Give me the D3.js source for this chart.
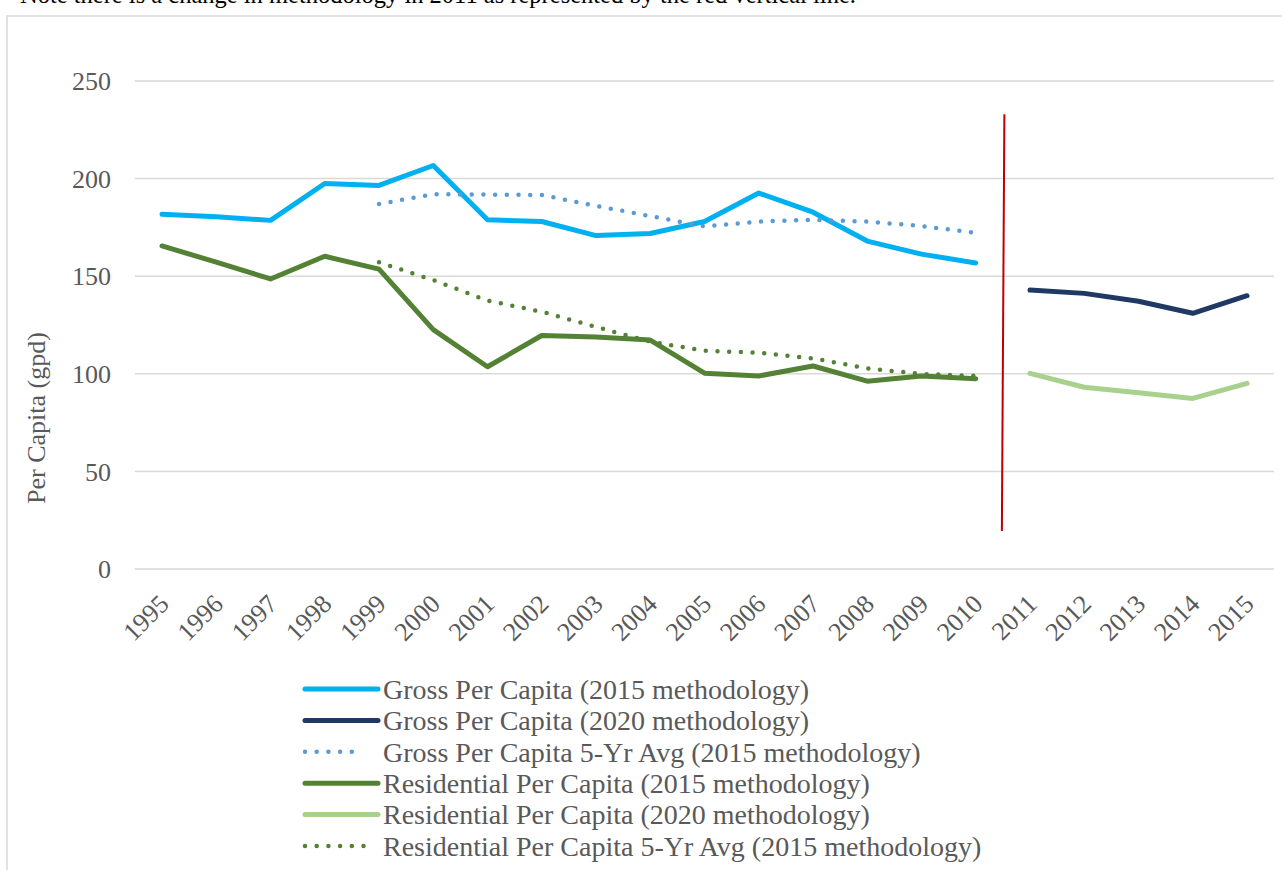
<!DOCTYPE html>
<html lang="en">
<head>
<meta charset="UTF-8">
<title>Per Capita Water Use</title>
<script src="https://d3js.org/d3.v7.min.js"></script>
<style>
    body { margin: 0; padding: 0; background: #fff; }
    svg { display: block; font-family: "Liberation Serif", "Times New Roman", serif; }
    .tick-label { fill: #595959; font-size: 26px; }
    .legend-label { fill: #595959; font-size: 28px; }
    .grid { stroke: #d9d9d9; stroke-width: 1.5; }
</style>
</head>
<body>
<svg id="chart" width="1282" height="870"></svg>
<script>
    const years = d3.range(1995, 2016);
    const yTicks = [0, 50, 100, 150, 200, 250];

    // values (null = no value that year)
    const gross2015 = [181.7, 180.5, 178.6, 197.5, 196.5, 206.7, 178.9, 178.0, 170.8, 171.9, 178.0, 192.6, 182.8, 168.0, 161.3, 156.8, null, null, null, null, null];
    const gross2020 = [null, null, null, null, null, null, null, null, null, null, null, null, null, null, null, null, 142.9, 141.2, 137.2, 131.0, 140.0];
    const grossAvg = [null, null, null, null, 187.0, 192.0, 191.8, 191.6, 186.0, 180.8, 175.5, 178.0, 178.9, 178.0, 175.7, 172.2, null, null, null, null, null];
    const res2015 = [165.5, 157.2, 148.6, 160.2, 153.6, 122.6, 103.6, 119.6, 118.9, 117.3, 100.3, 98.9, 104.0, 96.2, 98.9, 97.5, null, null, null, null, null];
    const res2020 = [null, null, null, null, null, null, null, null, null, null, null, null, null, null, null, null, 100.2, 93.1, 90.3, 87.4, 95.1];
    const resAvg = [null, null, null, null, 157.1, 148.0, 137.5, 131.8, 124.0, 116.5, 111.8, 110.8, 107.9, 102.8, 99.9, 98.9, null, null, null, null, null];

    const seriesNames = [
        "Gross Per Capita (2015 methodology)",
        "Gross Per Capita (2020 methodology)",
        "Gross Per Capita 5-Yr Avg (2015 methodology)",
        "Residential Per Capita (2015 methodology)",
        "Residential Per Capita (2020 methodology)",
        "Residential Per Capita 5-Yr Avg (2015 methodology)"
    ];
    const seriesValues = [gross2015, gross2020, grossAvg, res2015, res2020, resAvg];
    const seriesColors = ["#00b0f0", "#1f3864", "#5b9bd5", "#548235", "#a9d18e", "#548235"];
    const seriesDotted = [false, false, true, false, false, true];

    // red line marking the methodology change (value range it spans)
    const changeTop = 233, changeBottom = 19.5;

    const note = "Note there is a change in methodology in 2011 as represented by the red vertical line.";

    const svg = d3.select("#chart");

    const x = d3.scalePoint().domain(years).range([162, 1247]);
    const y = d3.scaleLinear().domain([0, 250]).range([569, 81]);
    const step = x.step();

    // outer frame (continues past the picture edges)
    svg.append("rect")
        .attr("x", 7).attr("y", 16)
        .attr("width", 1300).attr("height", 900)
        .attr("fill", "none").attr("stroke", "#d9d9d9").attr("stroke-width", 1.5);

    // note above the frame, mostly cut off
    svg.append("text")
        .attr("x", 20).attr("y", 3)
        .attr("font-size", 24.5)
        .attr("fill", "#000")
        .text(note);

    // gridlines
    svg.append("g").selectAll("line")
        .data(yTicks)
        .join("line")
        .attr("class", "grid")
        .attr("x1", x(1995) - step / 2).attr("x2", x(2015) + step / 2)
        .attr("y1", d => y(d)).attr("y2", d => y(d));

    svg.append("g").selectAll("text")
        .data(yTicks)
        .join("text")
        .attr("class", "tick-label")
        .attr("x", 111)
        .attr("y", d => y(d))
        .attr("dy", "0.35em")
        .attr("text-anchor", "end")
        .text(d => d);

    svg.append("g").selectAll("text")
        .data(years)
        .join("text")
        .attr("class", "tick-label")
        .attr("font-size", 27)
        .attr("text-anchor", "end")
        .attr("transform", d => `translate(${x(d) + 2},${y(0) + 30}) rotate(-45)`)
        .attr("dy", "0.35em")
        .text(d => d);

    svg.append("text")
        .attr("class", "tick-label")
        .attr("transform", `translate(36,${(y(0) + y(250)) / 2 + 93}) rotate(-90)`)
        .attr("text-anchor", "middle")
        .attr("dy", "0.35em")
        .text("Per Capita (gpd)");

    // series lines
    const line = d3.line()
        .defined(d => d.v != null)
        .x(d => x(d.year))
        .y(d => y(d.v));

    seriesValues.forEach((vals, i) => {
        const pts = years.map((year, j) => ({ year, v: vals[j] }));
        svg.append("path")
            .datum(pts)
            .attr("fill", "none")
            .attr("stroke", seriesColors[i])
            .attr("stroke-width", seriesDotted[i] ? 4.5 : 5)
            .attr("stroke-linecap", "round")
            .attr("stroke-linejoin", "round")
            .attr("stroke-dasharray", seriesDotted[i] ? "0 11.7" : null)
            .attr("d", line);
    });

    // methodology change marker
    const midX = (x(2010) + x(2011)) / 2;
    svg.append("line")
        .attr("x1", midX + 1.5).attr("y1", y(changeTop))
        .attr("x2", midX - 1).attr("y2", y(changeBottom))
        .attr("stroke", "#c00000").attr("stroke-width", 2);

    // legend
    const legend = svg.append("g").attr("transform", "translate(305,689)");
    const rowH = 31.4;
    seriesNames.forEach((name, i) => {
        const row = legend.append("g").attr("transform", `translate(0,${i * rowH})`);
        row.append("line")
            .attr("x1", 0).attr("x2", seriesDotted[i] ? (i === 2 ? 48 : 62) : 73)
            .attr("stroke", seriesColors[i])
            .attr("stroke-width", seriesDotted[i] ? 4.5 : 5)
            .attr("stroke-linecap", "round")
            .attr("stroke-dasharray", seriesDotted[i] ? "0 11.7" : null);
        row.append("text")
            .attr("class", "legend-label")
            .attr("x", 78)
            .attr("dy", "0.35em")
            .text(name);
    });
</script>
</body>
</html>
